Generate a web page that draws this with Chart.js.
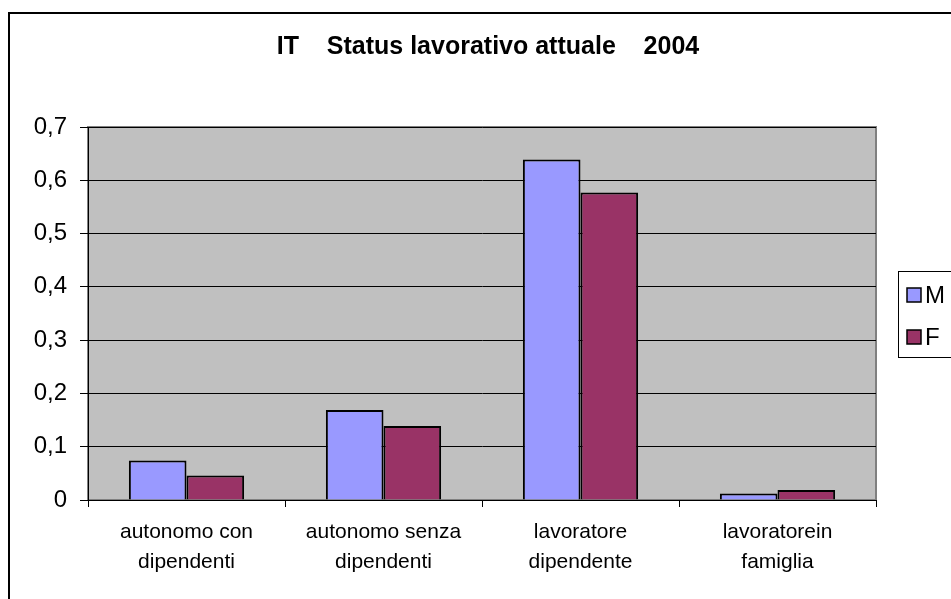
<!DOCTYPE html>
<html><head><meta charset="utf-8">
<script src="https://cdn.jsdelivr.net/npm/chart.js@4"></script>
<style>html,body{margin:0;padding:0;background:#fff}#wrap{width:951px;height:599px;position:relative;overflow:hidden}</style>
</head><body><div id="wrap"><canvas id="c" width="951" height="599"></canvas></div>
<script>
const categories = [['autonomo con','dipendenti'],['autonomo senza','dipendenti'],['lavoratore','dipendente'],['lavoratorein','famiglia']];
const seriesNames = ['M','F'];
const valuesM = [0.074, 0.169, 0.639, 0.012];
const valuesF = [0.046, 0.139, 0.577, 0.019];
const yTicks = [0, 0.1, 0.2, 0.3, 0.4, 0.5, 0.6, 0.7];
const titleText = 'IT    Status lavorativo attuale    2004';
const seriesColors = ['#9999FF', '#993366'];

const FONT = "'Liberation Sans', Arial, sans-serif";

const decor = {
  id: 'decor',
  beforeDraw(chart) {
    const {ctx, chartArea: a} = chart;
    ctx.save();
    ctx.fillStyle = '#C0C0C0';
    ctx.fillRect(a.left, a.top, a.right - a.left, a.bottom - a.top);
    ctx.strokeStyle = '#808080';
    ctx.lineWidth = 2;
    ctx.strokeRect(a.left, a.top, a.right - a.left, a.bottom - a.top);
    ctx.restore();
  },
  afterDraw(chart) {
    const {ctx} = chart;
    ctx.save();
    // outer chart border
    ctx.strokeStyle = '#000';
    ctx.lineWidth = 2;
    ctx.strokeRect(9, 13, 2000, 2000);
    // title
    ctx.fillStyle = '#000';
    ctx.font = "bold 25px " + FONT;
    ctx.textAlign = 'center';
    ctx.textBaseline = 'middle';
    ctx.fillText(titleText, 488, 47);
    // legend
    ctx.lineWidth = 1;
    ctx.strokeRect(898.5, 271.5, 100, 86);
    ctx.textAlign = 'left';
    ctx.font = "24px " + FONT;
    chart.data.datasets.forEach((ds, i) => {
      const y = 295 + i * 42;
      ctx.fillStyle = ds.backgroundColor;
      ctx.fillRect(907, y - 7, 14, 14);
      ctx.strokeStyle = '#000';
      ctx.lineWidth = 1.5;
      ctx.strokeRect(907, y - 7, 14, 14);
      ctx.fillStyle = '#000';
      ctx.fillText(ds.label, 925, y + 1);
    });
    ctx.restore();
  }
};

new Chart(document.getElementById('c'), {
  type: 'bar',
  data: {
    labels: categories,
    datasets: [
      {label: seriesNames[0], data: valuesM, backgroundColor: seriesColors[0], borderColor: '#000', borderWidth: 2},
      {label: seriesNames[1], data: valuesF, backgroundColor: seriesColors[1], borderColor: '#000', borderWidth: 2}
    ]
  },
  options: {
    responsive: false,
    animation: false,
    devicePixelRatio: 1,
    categoryPercentage: 0.585,
    barPercentage: 1,
    layout: {padding: {top: 127, right: 75, left: 0, bottom: 0}},
    plugins: {legend: {display: false}, title: {display: false}, tooltip: {enabled: false}},
    scales: {
      x: {
        afterFit(s) { s.height = 99; },
        grid: {display: true, drawOnChartArea: false, drawTicks: true, tickLength: 7, color: '#000', lineWidth: 1, offset: true},
        border: {display: true, color: '#000', width: 1},
        ticks: {color: '#000', font: {family: FONT, size: 21, lineHeight: 1.45}, padding: 10, maxRotation: 0, autoSkip: false}
      },
      y: {
        min: 0, max: 0.7,
        afterFit(s) { s.width = 88; },
        afterBuildTicks(s) { s.ticks = yTicks.map(v => ({value: v})); },
        grid: {color: '#000', lineWidth: 1, drawTicks: true, tickLength: 8},
        border: {display: true, color: '#000', width: 1},
        ticks: {color: '#000', font: {family: FONT, size: 24}, padding: 13,
          callback: v => v === 0 ? '0' : v.toFixed(1).replace('.', ',')}
      }
    }
  },
  plugins: [decor]
});
</script>
</body></html>
